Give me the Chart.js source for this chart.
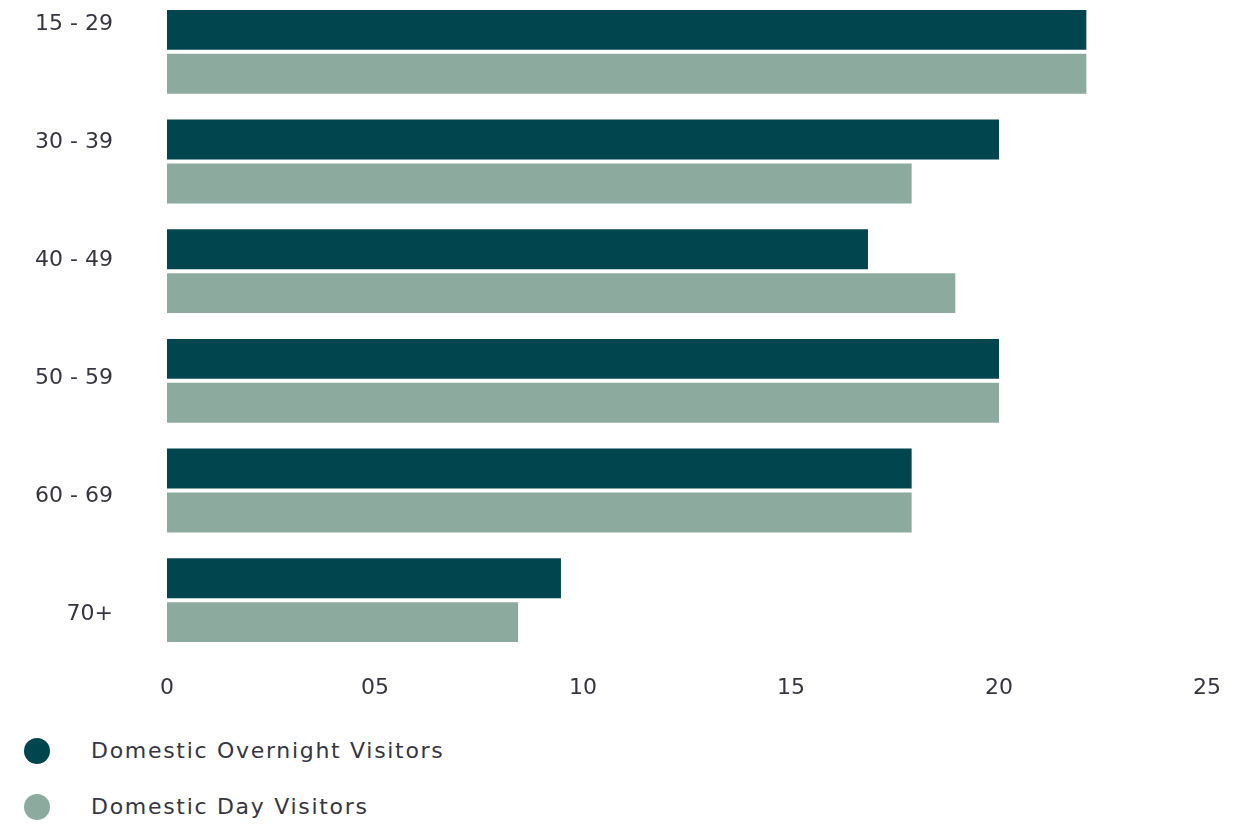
<!DOCTYPE html>
<html>
<head>
<meta charset="utf-8">
<script src="https://cdn.jsdelivr.net/npm/chart.js@4/dist/chart.umd.min.js"></script>
<style>
  html, body { margin: 0; padding: 0; background: #fff; }
  #wrap { position: relative; width: 1255px; height: 826px; overflow: hidden; }
  #chart { position: absolute; left: 0; top: -3px; }
  .legend-item {
    position: absolute; left: 0; height: 26px; width: 600px;
    font-family: "DejaVu Sans", sans-serif; font-size: 22px; line-height: 26px;
    letter-spacing: 1.7px; color: #363642;
  }
  .legend-item .dot {
    position: absolute; left: 24px; top: 0; width: 26px; height: 26px; border-radius: 50%;
  }
  .legend-item .label { position: absolute; left: 91px; top: 0; white-space: nowrap; }
</style>
</head>
<body>
<div id="wrap">
  <canvas id="chart" width="1255" height="718"></canvas>
  <div id="legend"></div>
</div>
<script>
const AGE_GROUPS = ["15 - 29", "30 - 39", "40 - 49", "50 - 59", "60 - 69", "70+"];
const OVERNIGHT = [22.1, 20.0, 16.85, 20.0, 17.9, 9.47];
const DAY_TRIPS = [22.1, 17.9, 18.95, 20.0, 17.9, 8.44];
const SERIES_NAMES = ["Domestic Overnight Visitors", "Domestic Day Visitors"];
const X_TICKS = [0, 5, 10, 15, 20, 25];

const DARK = "#01454f";
const LIGHT = "#8daa9f";
const TEXT = "#363642";

Chart.defaults.font.family = '"DejaVu Sans", sans-serif';
Chart.defaults.font.size = 22;
Chart.defaults.color = TEXT;

const datasets = [
  { label: SERIES_NAMES[0], data: OVERNIGHT, backgroundColor: DARK },
  { label: SERIES_NAMES[1], data: DAY_TRIPS, backgroundColor: LIGHT },
];

// labels may hang over the plot edges, so drop the extra edge padding
function noEdgePadding(scale) {
  scale.paddingTop = 0;
  scale.paddingBottom = 0;
  scale.paddingLeft = 0;
  scale.paddingRight = 0;
}

new Chart(document.getElementById("chart"), {
  type: "bar",
  data: { labels: AGE_GROUPS, datasets },
  options: {
    indexAxis: "y",
    responsive: false,
    animation: false,
    categoryPercentage: 0.8,
    barPercentage: 0.91,
    borderWidth: 0,
    layout: { padding: { left: 0, right: 48, top: 0, bottom: 0 } },
    plugins: { legend: { display: false }, tooltip: { enabled: false } },
    scales: {
      y: { display: false },
      // age labels sit on their own evenly spaced track, as in the source layout
      ages: {
        type: "linear",
        position: "left",
        reverse: true,
        offset: false,
        bounds: "data",
        min: -0.229,
        max: 5.347,
        grid: { display: false, drawTicks: false, offset: false },
        border: { display: false },
        afterBuildTicks: (scale) => {
          scale.ticks = AGE_GROUPS.map((_, i) => ({ value: i }));
        },
        afterFit: (scale) => {
          scale.width = 167;
          noEdgePadding(scale);
        },
        ticks: {
          padding: 54,
          autoSkip: false,
          callback: (v) => AGE_GROUPS[v],
        },
      },
      x: {
        min: 0,
        max: 25,
        grid: { display: false, drawTicks: false },
        border: { display: false },
        afterBuildTicks: (scale) => {
          scale.ticks = X_TICKS.map((v) => ({ value: v }));
        },
        afterFit: (scale) => {
          scale.height = 60;
          noEdgePadding(scale);
        },
        ticks: {
          padding: 20,
          maxRotation: 0,
          callback: (v) => (v === 0 ? "0" : String(v).padStart(2, "0")),
        },
      },
    },
  },
});

// legend in html so the two entries stack like the original
const legend = document.getElementById("legend");
datasets.forEach((ds, i) => {
  const item = document.createElement("div");
  item.className = "legend-item";
  item.style.top = (738 + i * 55.5) + "px";
  const dot = document.createElement("span");
  dot.className = "dot";
  dot.style.background = ds.backgroundColor;
  const label = document.createElement("span");
  label.className = "label";
  label.textContent = ds.label;
  item.appendChild(dot);
  item.appendChild(label);
  legend.appendChild(item);
});
</script>
</body>
</html>
